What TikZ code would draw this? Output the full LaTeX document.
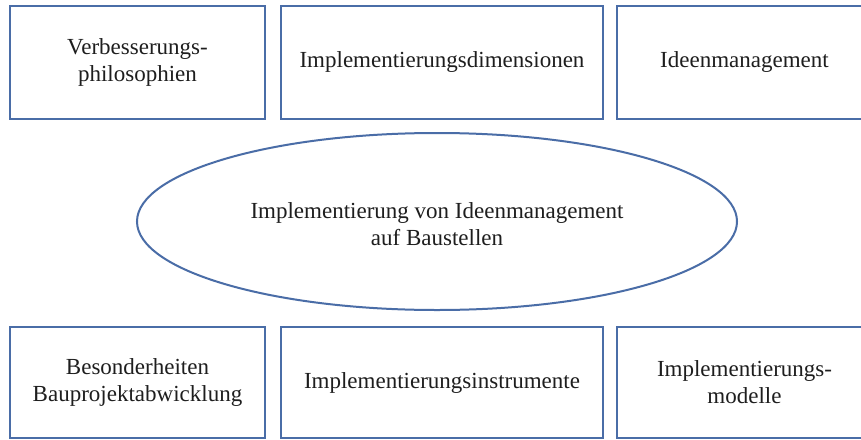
\documentclass[tikz,border=0pt]{standalone}
\usepackage{fontspec}
\setmainfont{Liberation Serif}
\usetikzlibrary{shapes.geometric}
\definecolor{boxblue}{HTML}{4A6DA7}
\definecolor{txt}{HTML}{1E1E1E}
\begin{document}
\begin{tikzpicture}[x=1pt,y=-1pt,
  box/.style={draw=boxblue, line width=2.2pt, fill=white, inner sep=0pt, outer sep=0pt,
              minimum width=255pt, text=txt, align=center, font=\fontsize{23}{27}\selectfont},
  toprow/.style={box, minimum height=113pt},
  botrow/.style={box, minimum height=111pt},
  oval/.style={ellipse, draw=boxblue, line width=2pt, inner sep=0pt, outer sep=0pt,
               minimum width=600pt, minimum height=177pt},
  lbl/.style={text=txt, align=center, font=\fontsize{23}{27}\selectfont}]
\useasboundingbox (0,0) rectangle (861,439);
\fill[white] (0,0) rectangle (861,439);
\begin{scope}
\clip (0,0) rectangle (861,439);
\node[toprow] (t1) at (137.5,62.5) {Verbesserungs-\\philosophien};
\node[toprow, minimum width=322pt] (t2) at (442,62.5) {Implementierungsdimensionen};
\node[toprow] (t3) at (744.5,62.5) {Ideenmanagement};
\node[oval] (e) at (437,221.5) {};
\node[lbl, yshift=-3pt] (et) at (e.center) {Implementierung von Ideenmanagement\\auf Baustellen};
\node[botrow] (u1) at (137.5,382.5) {Besonderheiten\\Bauprojektabwicklung};
\node[botrow, minimum width=322pt] (u2) at (442,382.5) {Implementierungsinstrumente};
\node[botrow] (u3) at (744.5,382.5) {Implementierungs-\\modelle};
\end{scope}
\end{tikzpicture}
\end{document}
